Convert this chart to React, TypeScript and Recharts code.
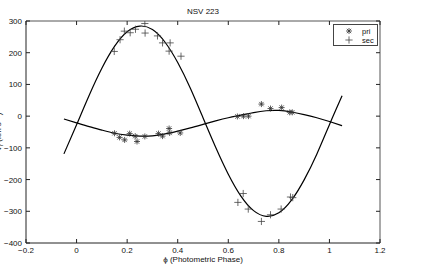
import { ComposedChart, Legend, Line, Scatter, XAxis, YAxis } from "recharts";

const xTicks = [-0.2, 0, 0.2, 0.4, 0.6, 0.8, 1, 1.2];
const yTicks = [-400, -300, -200, -100, 0, 100, 200, 300];

// fitted orbit curves, every 0.05 in phase
const fitPhase = [
  -0.05, 0, 0.05, 0.1, 0.15, 0.2, 0.25, 0.3, 0.35, 0.4, 0.45, 0.5,
  0.55, 0.6, 0.65, 0.7, 0.75, 0.8, 0.85, 0.9, 0.95, 1, 1.05
];
const secFit = [
  -119, -27, 66, 151, 220, 266, 284, 273, 233, 169, 88, -5,
  -98, -183, -252, -298, -316, -305, -265, -201, -120, -27, 64
];
const priFit = [
  -9, -21, -33, -44, -54, -60, -63, -62, -56, -47, -37, -26,
  -15, -5, 3, 11, 17, 18, 13, 5, -5, -17, -30
];

// measured velocities
const priPhase = [
  0.15, 0.17, 0.19, 0.21, 0.232, 0.239, 0.27, 0.324, 0.34, 0.366,
  0.368, 0.41, 0.636, 0.66, 0.68, 0.731, 0.767, 0.811, 0.843, 0.853
];
const priVel = [
  -54, -67, -75, -55, -63, -80, -64, -55, -63, -39,
  -53, -53, -1, 0, 0, 38, 24, 27, 12, 12
];
const secPhase = [
  0.149, 0.172, 0.189, 0.212, 0.233, 0.27, 0.271, 0.32, 0.34, 0.37,
  0.366, 0.413, 0.638, 0.659, 0.679, 0.731, 0.767, 0.809, 0.846, 0.855
];
const secVel = [
  204, 241, 268, 263, 274, 292, 262, 253, 231, 231,
  205, 189, -272, -244, -293, -332, -311, -293, -255, -257
];

const toRows = (xs: number[], ys: number[]) => xs.map((x, i) => ({ x, y: ys[i] }));

const secCurve = toRows(fitPhase, secFit);
const priCurve = toRows(fitPhase, priFit);
const priData = toRows(priPhase, priVel);
const secData = toRows(secPhase, secVel);

const ink = "#222";
const font = "'Liberation Sans', Arial, Helvetica, sans-serif";

function fmt(v: number) {
  const s = String(Math.abs(v));
  return v < 0 ? "\u2212" + s : s;
}

function Star({ cx, cy }: any) {
  const r = 3;
  const d = r * 0.72;
  return (
    <g stroke="#333" strokeWidth={0.8}>
      <line x1={cx - r} x2={cx + r} y1={cy} y2={cy} />
      <line x1={cx} x2={cx} y1={cy - r} y2={cy + r} />
      <line x1={cx - d} x2={cx + d} y1={cy - d} y2={cy + d} />
      <line x1={cx - d} x2={cx + d} y1={cy + d} y2={cy - d} />
    </g>
  );
}

function Plus({ cx, cy }: any) {
  const r = 3.6;
  return (
    <g stroke="#444" strokeWidth={0.8}>
      <line x1={cx - r} x2={cx + r} y1={cy} y2={cy} />
      <line x1={cx} x2={cx} y1={cy - r} y2={cy + r} />
    </g>
  );
}

function BottomTick({ x, y, payload }: any) {
  return (
    <g>
      <line x1={x} x2={x} y1={y} y2={y - 4} stroke={ink} />
      <text x={x} y={y + 10} textAnchor="middle" fontSize={8} fill="#111" fontFamily={font}>
        {fmt(payload.value)}
      </text>
    </g>
  );
}

function LeftTick({ x, y, payload }: any) {
  return (
    <g>
      <line x1={x} x2={x + 4} y1={y} y2={y} stroke={ink} />
      <text x={x - 4} y={y + 3} textAnchor="end" fontSize={8} fill="#111" fontFamily={font}>
        {fmt(payload.value)}
      </text>
    </g>
  );
}

function TopTick({ x, y }: any) {
  return <line x1={x} x2={x} y1={y} y2={y + 4} stroke={ink} />;
}

function RightTick({ x, y }: any) {
  return <line x1={x} x2={x - 4} y1={y} y2={y} stroke={ink} />;
}

function YLabel({ viewBox }: any) {
  const cx = viewBox.x + 1;
  const cy = viewBox.y + viewBox.height / 2;
  return (
    <text
      x={cx}
      y={cy}
      transform={`rotate(-90 ${cx} ${cy})`}
      textAnchor="middle"
      fontSize={8}
      fill="#111"
      fontFamily={font}
    >
      V<tspan fontSize={6} dy={2}>r</tspan>
      <tspan dy={-2}> (km s</tspan>
      <tspan fontSize={6} dy={-3}>−1</tspan>
      <tspan dy={3}>)</tspan>
    </text>
  );
}

function LegendBox() {
  return (
    <svg width={45} height={22} style={{ display: "block" }}>
      <rect x={0.5} y={0.5} width={44} height={21} fill="#fff" stroke="#444" />
      <Star cx={16} cy={7} />
      <Plus cx={16} cy={16} />
      <text x={29} y={9.5} fontSize={7.5} fill="#111" fontFamily={font}>pri</text>
      <text x={29} y={18.5} fontSize={7.5} fill="#111" fontFamily={font}>sec</text>
    </svg>
  );
}

export default function App() {
  return (
    <div
      style={{
        position: "absolute",
        left: 0,
        top: 0,
        width: 424,
        height: 273,
        background: "#fff",
        fontFamily: font
      }}
    >
      <div
        style={{
          position: "absolute",
          left: 0,
          width: 406,
          top: 7,
          textAlign: "center",
          fontSize: 8,
          color: "#111"
        }}
      >
        NSV 223
      </div>
      <ComposedChart width={424} height={273} margin={{ top: 15, right: 38, bottom: 0, left: 0 }}>
        <XAxis
          dataKey="x"
          type="number"
          domain={[-0.2, 1.2]}
          ticks={xTicks}
          allowDataOverflow
          height={30}
          tickSize={0}
          tickMargin={0}
          tickLine={false}
          axisLine={{ stroke: ink }}
          tick={<BottomTick />}
          interval={0}
          label={{
            value: "\u03d5 (Photometric Phase)",
            position: "insideBottom",
            offset: 11,
            fontSize: 8,
            fill: "#111",
            fontFamily: font
          }}
        />
        <XAxis
          xAxisId="top"
          orientation="top"
          dataKey="x"
          type="number"
          domain={[-0.2, 1.2]}
          ticks={xTicks}
          allowDataOverflow
          height={6}
          tickSize={0}
          tickMargin={0}
          tickLine={false}
          axisLine={{ stroke: "#555" }}
          tick={<TopTick />}
          interval={0}
        />
        <YAxis
          type="number"
          domain={[-400, 300]}
          ticks={yTicks}
          allowDataOverflow
          width={26}
          tickSize={0}
          tickMargin={0}
          tickLine={false}
          axisLine={{ stroke: ink }}
          tick={<LeftTick />}
          interval={0}
          label={<YLabel />}
        />
        <YAxis
          yAxisId="right"
          orientation="right"
          type="number"
          domain={[-400, 300]}
          ticks={yTicks}
          allowDataOverflow
          width={6}
          tickSize={0}
          tickMargin={0}
          tickLine={false}
          axisLine={{ stroke: "#555" }}
          tick={<RightTick />}
          interval={0}
        />
        <Legend
          layout="vertical"
          align="center"
          verticalAlign="middle"
          content={<LegendBox />}
          wrapperStyle={{ position: "absolute", left: 333, top: 24, width: 45, height: 22 }}
        />
        <Line
          xAxisId="top"
          yAxisId="right"
          data={secCurve}
          dataKey="y"
          type="natural"
          stroke="#000"
          strokeWidth={1.2}
          dot={false}
          activeDot={false}
          legendType="none"
          isAnimationActive={false}
        />
        <Line
          data={priCurve}
          dataKey="y"
          type="natural"
          stroke="#000"
          strokeWidth={1.2}
          dot={false}
          activeDot={false}
          legendType="none"
          isAnimationActive={false}
        />
        <Scatter name="pri" data={priData} dataKey="y" shape={<Star />} isAnimationActive={false} />
        <Scatter name="sec" data={secData} dataKey="y" shape={<Plus />} isAnimationActive={false} />
      </ComposedChart>
    </div>
  );
}
